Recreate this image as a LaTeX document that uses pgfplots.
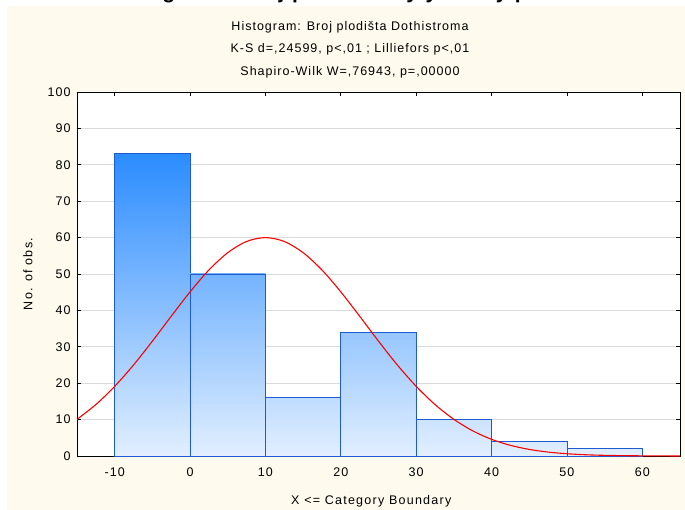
\documentclass[border=0pt]{standalone}
\usepackage{fontspec}
\setmainfont{Liberation Sans}[LetterSpace=8]
\usepackage{pgfplots}
\pgfplotsset{compat=1.18}
\definecolor{cream}{RGB}{255,250,238}
\definecolor{barline}{RGB}{30,90,210}
\definecolor{bdark}{RGB}{43,140,255}
\definecolor{blight}{RGB}{226,239,254}
\definecolor{gridg}{RGB}{218,218,218}
\begin{document}
\begin{tikzpicture}
\useasboundingbox (0pt,0pt) rectangle (685pt,-510pt);
\fill[white] (0pt,0pt) rectangle (685pt,-510pt);
\fill[cream] (7pt,-6pt) rectangle (685pt,-510pt);
\begin{scope}
\clip (0pt,0pt) rectangle (685pt,-6pt);
\node[anchor=base, font=\fontsize{21}{24}\selectfont\bfseries, inner sep=0pt] at (330pt,1pt) {Histogram: Broj plodišta by year by plot};
\end{scope}
\node[font=\fontsize{12.5}{15}\selectfont] at (350pt,-27pt) {Histogram: Broj plodišta Dothistroma};
\node[font=\fontsize{12.5}{15}\selectfont] at (350pt,-49pt) {K-S d=,24599, p<,01 ; Lilliefors p<,01};
\node[font=\fontsize{12.5}{15}\selectfont] at (350pt,-72pt) {Shapiro-Wilk W=,76943, p=,00000};
\begin{axis}[
  scale only axis, width=603pt, height=364pt,
  at={(77pt,-456pt)}, anchor=south west,
  xmin=-15, xmax=65, ymin=0, ymax=100,
  xtick={-10,0,...,60}, ytick={0,10,...,100},
  ymajorgrids, grid style={gridg, line width=0.8pt},
  axis background/.style={fill=white},
  axis line style={black, line width=0.9pt},
  major tick length=4pt,
  tick style={black, line width=0.7pt},
  tick label style={font=\fontsize{12.5}{15}\selectfont},
  /pgf/number format/assume math mode=true,
  xlabel={X <= Category Boundary},
  ylabel={No. of obs.},
  label style={font=\fontsize{12.5}{15}\selectfont\addfontfeatures{LetterSpace=10}},
  xlabel style={at={(axis description cs:0.488,0)}, anchor=center, yshift=-45pt},
  ylabel style={at={(axis description cs:-0.0813,0.5)}, anchor=center},
  xticklabel style={yshift=-8pt},
  yticklabel style={xshift=-3pt},
]
\addplot[ybar interval, draw=barline, line width=0.8pt, bottom color=blight, top color=bdark!100!blight] coordinates {(-10,83) (0,83)};
\addplot[ybar interval, draw=barline, line width=0.8pt, bottom color=blight, top color=bdark!60!blight] coordinates {(0,50) (10,50)};
\addplot[ybar interval, draw=barline, line width=0.8pt, bottom color=blight, top color=bdark!19!blight] coordinates {(10,16) (20,16)};
\addplot[ybar interval, draw=barline, line width=0.8pt, bottom color=blight, top color=bdark!41!blight] coordinates {(20,34) (30,34)};
\addplot[ybar interval, draw=barline, line width=0.8pt, bottom color=blight, top color=bdark!12!blight] coordinates {(30,10) (40,10)};
\addplot[ybar interval, draw=barline, line width=0.8pt, bottom color=blight, top color=bdark!5!blight] coordinates {(40,4) (50,4)};
\addplot[ybar interval, draw=barline, line width=0.8pt, bottom color=blight, top color=bdark!2!blight] coordinates {(50,2) (60,2)};
\addplot[red, line width=1.1pt, smooth, mark=none] coordinates {
(-15,10.07) (-12.5,14.13) (-10,19.14) (-7.5,25.0) (-5,31.55) (-2.5,38.4) (0,45.09) (2.5,51.1) (5,55.86) (7.5,58.94) (10,60)
(12.5,58.94) (15,55.86) (17.5,51.1) (20,45.09) (22.5,38.4) (25,31.55) (27.5,25.0) (30,19.14) (32.5,14.13) (35,10.07)
(37.5,6.91) (40,4.58) (42.5,2.93) (45,1.81) (47.5,1.08) (50,0.62) (52.5,0.34) (55,0.18) (57.5,0.095) (60,0.047) (62.5,0.02) (65,0.01)};
\end{axis}
\end{tikzpicture}
\end{document}
